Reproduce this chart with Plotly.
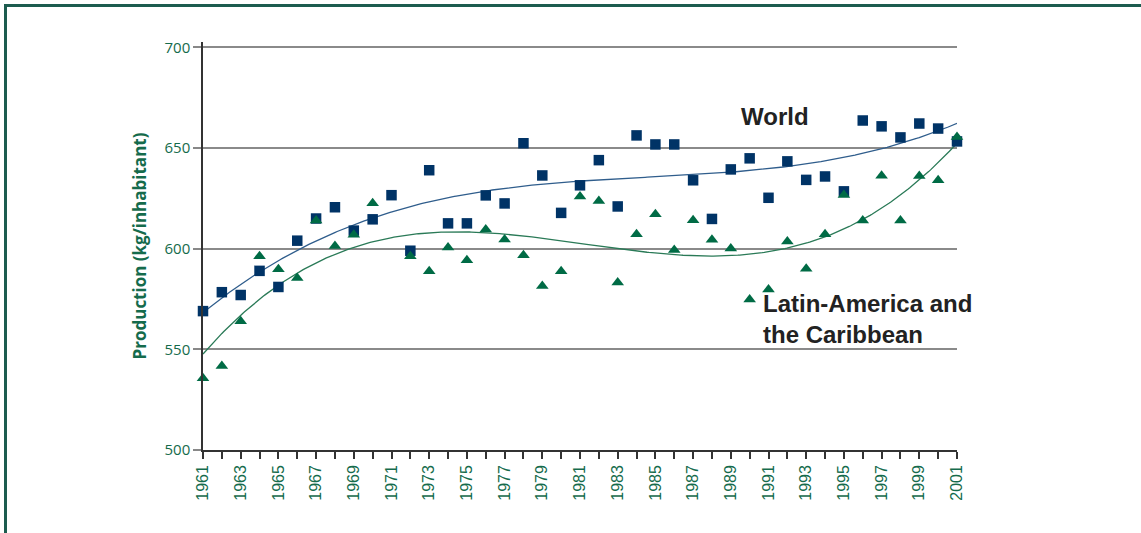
import numpy as np
import plotly.graph_objects as go

years = list(range(1961, 2002))
world = [569, 578.4, 577, 589, 581, 604, 615, 620.6, 609, 614.6,
         626.6, 599, 639, 612.6, 612.6, 626.5, 622.5, 652.4, 636.4, 617.8,
         631.5, 644, 621, 656.3, 651.8, 651.8, 634, 614.8, 639.4, 644.9,
         625.3, 643.4, 634.2, 635.9, 628.5, 663.7, 660.8, 655.3, 662.2, 659.7, 653.3]
lac = [535.7, 541.7, 564, 596.3, 589.8, 585.4, 614, 601.3, 607, 622.6,
       None, 596.3, 588.8, 600.6, 594.3, 609.6, 604.6, 596.8, 581.5, 588.8,
       626, 623.7, 583.2, 607.2, 617.1, 599.4, 614.1, 604.4, 600.1, 574.8,
       579.8, 603.6, 590, 607.2, 626.7, 614, 636.3, 614, 636.1, 634, 655.5]
xtick_vals = list(range(1961, 2002, 2))
ytick_vals = [500, 550, 600, 650, 700]

NAVY = "#003366"
GREEN = "#006B45"
TXT_GREEN = "#156b4c"

def trend(xs, ys, deg=3):
    pts = [(x, y) for x, y in zip(xs, ys) if y is not None]
    px = np.array([p[0] for p in pts], float)
    py = np.array([p[1] for p in pts], float)
    c = np.polyfit(px - 1981, py, deg)
    fx = np.linspace(1961, 2001, 400)
    return fx, np.polyval(c, fx - 1981)

wx, wy = trend(years, world)
lx, ly = trend(years, lac)

fig = go.Figure()
fig.add_trace(go.Scatter(x=wx, y=wy, mode="lines", line=dict(color="#2f5d8c", width=1.3),
                         hoverinfo="skip", showlegend=False, cliponaxis=False))
fig.add_trace(go.Scatter(x=lx, y=ly, mode="lines", line=dict(color="#2a7a57", width=1.3),
                         hoverinfo="skip", showlegend=False, cliponaxis=False))
fig.add_trace(go.Scatter(x=years, y=world, mode="markers", name="World",
                         marker=dict(symbol="square", size=10.5, color=NAVY),
                         showlegend=False, cliponaxis=False))
fig.add_trace(go.Scatter(x=years, y=lac, mode="markers", name="Latin-America and the Caribbean",
                         marker=dict(symbol="triangle-up", size=11, color=GREEN),
                         showlegend=False, cliponaxis=False))

fig.update_layout(
    width=1141, height=533,
    margin=dict(l=203, r=184, t=42, b=83),
    paper_bgcolor="white", plot_bgcolor="white",
    showlegend=False,
    xaxis=dict(range=[1961, 2001], tickmode="array", tickvals=xtick_vals,
               ticktext=[str(v) for v in xtick_vals], tickangle=-90,
               ticks="outside", ticklen=7, tickcolor="#333", tickwidth=1.5,
               minor=dict(dtick=1, tick0=1961, ticks="outside", ticklen=7, tickcolor="#333", tickwidth=1.5),
               showgrid=False, zeroline=False, showline=True, linecolor="#333", linewidth=1.5,
               tickfont=dict(family="Liberation Sans, Arial", size=16, color=TXT_GREEN)),
    yaxis=dict(range=[500, 702.7], tickmode="array", tickvals=ytick_vals,
               ticks="outside", ticklen=8, tickcolor="#888", tickwidth=2,
               showgrid=True, gridcolor="#8a8a8a", gridwidth=1.5, zeroline=False,
               showline=True, linecolor="#333", linewidth=1.5,
               tickfont=dict(family="Open Sans", size=15, color=TXT_GREEN),
               title=dict(text="<b>Production (kg/inhabitant)</b>", standoff=14,
                          font=dict(family="Open Sans", size=17, color=TXT_GREEN))),
)

pw, ph = 754, 408
def px2x(p): return (p - 203) / pw
def py2y(p): return (450 - p) / ph

fig.add_shape(type="line", xref="paper", yref="paper", x0=px2x(4), x1=px2x(1141), y0=py2y(5.5), y1=py2y(5.5),
              line=dict(color="#1d5c4f", width=3))
fig.add_shape(type="line", xref="paper", yref="paper", x0=px2x(5.5), x1=px2x(5.5), y0=py2y(4), y1=py2y(533),
              line=dict(color="#1d5c4f", width=3))

fig.add_annotation(x=px2x(739), y=py2y(116), xref="paper", yref="paper", xanchor="left", yanchor="middle",
                   text="<b>World</b>", showarrow=False,
                   font=dict(family="Liberation Sans, Arial", size=24, color="#222"))
fig.add_annotation(x=px2x(761), y=py2y(319), xref="paper", yref="paper", xanchor="left", yanchor="middle",
                   text="<b>Latin-America and<br>the Caribbean</b>", showarrow=False, align="left",
                   font=dict(family="Liberation Sans, Arial", size=24, color="#222"))

fig.write_html("out.html", config={"displayModeBar": False},
               post_script="document.body.style.margin='0';document.body.style.overflow='hidden';")
